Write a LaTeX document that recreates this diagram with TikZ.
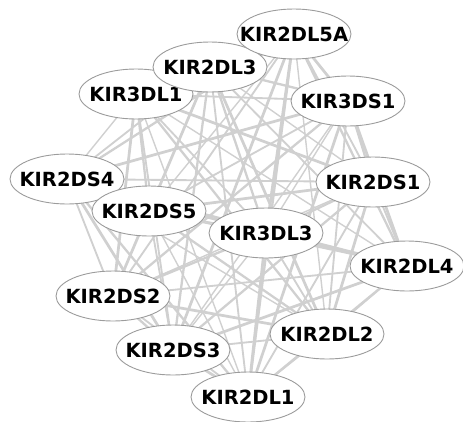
\documentclass[tikz,border=0pt]{standalone}
\usepackage{fontspec}
\setmainfont{DejaVu Sans}
\usetikzlibrary{backgrounds}
\definecolor{edgegray}{HTML}{D0D0D0}
\definecolor{rimgray}{HTML}{9C9C9C}
\begin{document}
\begin{tikzpicture}[x=1pt,y=-1pt,
  gene/.style={inner sep=0pt, font=\fontsize{19.5}{22}\selectfont\bfseries},
  rim/.style={draw=rimgray, line width=0.9pt, fill=white},
  link/.style={draw=edgegray, line width=#1}]
\useasboundingbox (0,0) rectangle (463,421);
% gene nodes: a white ellipse with the gene name on top (later ones overlap earlier ones)
\foreach \n/\x/\y in {KIR3DL1/136/94, KIR2DL3/210/67, KIR2DL5A/294/34,
    KIR3DS1/348/101, KIR2DS4/67/179, KIR2DS1/373/182, KIR2DS5/149/211,
    KIR3DL3/266/233, KIR2DL4/407/266, KIR2DS2/113/296, KIR2DL2/327/334,
    KIR2DS3/173/350, KIR2DL1/248/397}{
  \path[rim] (\x,\y) ellipse [x radius=57, y radius=25];
  \node[gene] (\n) at (\x,\y) {\n};
}
% every pair of genes is linked
\begin{pgfonlayer}{background}
\foreach \a [count=\i] in {KIR2DL5A,KIR2DL3,KIR3DL1,KIR3DS1,KIR2DS4,KIR2DS1,
    KIR2DS5,KIR3DL3,KIR2DL4,KIR2DS2,KIR2DL2,KIR2DS3,KIR2DL1}{
  \foreach \b [count=\j] in {KIR2DL5A,KIR2DL3,KIR3DL1,KIR3DS1,KIR2DS4,KIR2DS1,
      KIR2DS5,KIR3DL3,KIR2DL4,KIR2DS2,KIR2DL2,KIR2DS3,KIR2DL1}{
    \ifnum\j>\i
      \pgfmathsetmacro\w{1.4+mod(\i*7+\j*3,4)*0.45}
      \draw[link=\w pt] (\a.center) -- (\b.center);
    \fi
  }
}
\end{pgfonlayer}
\end{tikzpicture}
\end{document}
